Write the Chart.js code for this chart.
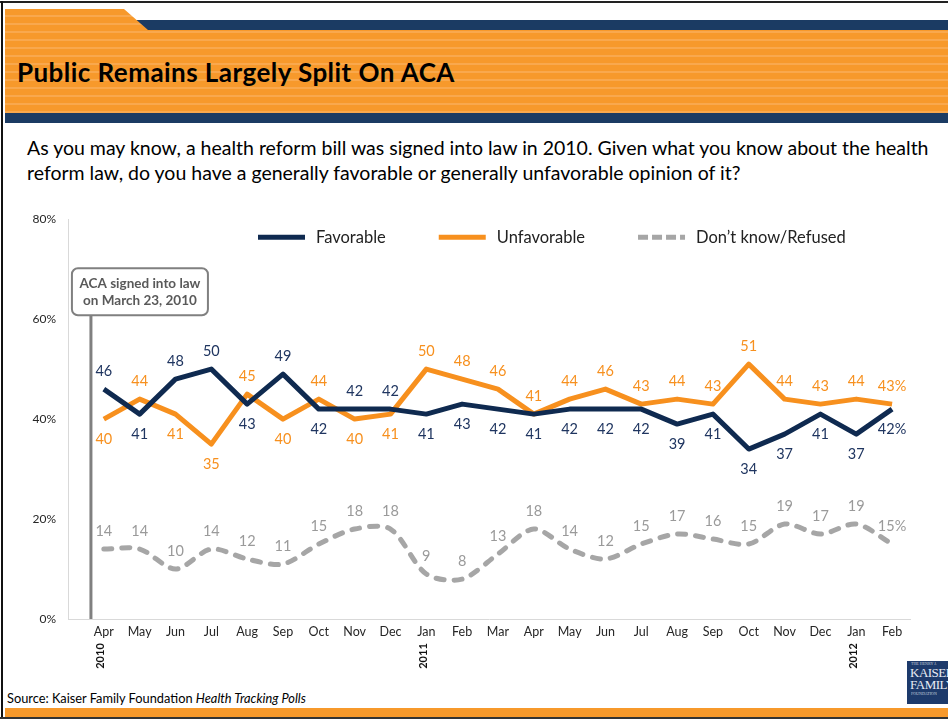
<!DOCTYPE html>
<html>
<head>
<meta charset="utf-8">
<script src="https://cdn.jsdelivr.net/npm/chart.js@4.4.1/dist/chart.umd.min.js"></script>
<style>
  body { margin: 0; width: 948px; height: 719px; overflow: hidden; background: #fff; position: relative; font-family: Lato, 'Open Sans', sans-serif; }
  .frame-top { position: absolute; left: 0; top: 1px; width: 948px; height: 2px; background: #222; }
  .frame-left { position: absolute; left: 1px; top: 1px; width: 2px; height: 718px; background: #111; }
  .navy-strip { position: absolute; left: 130px; top: 20px; width: 818px; height: 10px; background: #1b3b63; }
  .banner { position: absolute; left: 5px; top: 9px; width: 943px; height: 104px;
    background: repeating-linear-gradient(to bottom, #f7992b 0, #f7992b 6.5px, #f9a84d 6.5px, #f9a84d 8px);
    clip-path: polygon(0 0, 119px 0, 143px 21px, 100% 21px, 100% 100%, 0 100%); }
  .banner-base { position: absolute; left: 5px; top: 113px; width: 943px; height: 10px; background: #1b3b63; }
  .title { position: absolute; left: 17px; top: 56px; font: bold 26px Lato, sans-serif; color: #000; letter-spacing: 0.45px; }
  .question { position: absolute; left: 27px; top: 135px; font-size: 19.5px; line-height: 25px; color: #000; }
  #wrap { position: absolute; left: 0; top: 200px; width: 948px; height: 490px; }
  .source { position: absolute; left: 7px; top: 690px; font-size: 12.8px; color: #000; }
  .footer { position: absolute; left: 5px; top: 708px; width: 943px; height: 9px; background: #f7992b; }
  .footer-line { position: absolute; left: 0; top: 717px; width: 948px; height: 2px; background: #333; }
  .logo { position: absolute; left: 907px; top: 661px; width: 41px; height: 43px; background: #1d3a6b; overflow: hidden;
    color: #e8ecf4; font-family: 'Liberation Serif', serif; white-space: nowrap; }
  .logo .small { font-size: 4px; line-height: 6px; padding-left: 4px; opacity: 0.8; }
  .logo .big { font-size: 13px; line-height: 12px; padding-left: 3px; letter-spacing: -0.5px; }
</style>
</head>
<body>
<div class="frame-top"></div>
<div class="navy-strip"></div>
<div class="banner"></div>
<div class="banner-base"></div>
<div class="frame-left"></div>
<div class="title">Public Remains Largely Split On ACA</div>
<div class="question">As you may know, a health reform bill was signed into law in 2010. Given what you know about the health<br>reform law, do you have a generally favorable or generally unfavorable opinion of it?</div>

<div id="wrap"><canvas id="chart"></canvas></div>

<div class="source">Source: Kaiser Family Foundation <i>Health Tracking Polls</i></div>
<div class="logo">
  <div class="small">THE HENRY J.</div>
  <div class="big">KAISER</div>
  <div class="big">FAMILY</div>
  <div class="small">FOUNDATION</div>
</div>
<div class="footer"></div>
<div class="footer-line"></div>

<script>
// monthly tracking polls, April 2010 through February 2012
const months = ['Apr', 'May', 'Jun', 'Jul', 'Aug', 'Sep', 'Oct', 'Nov', 'Dec',
  'Jan', 'Feb', 'Mar', 'Apr', 'May', 'Jun', 'Jul', 'Aug', 'Sep', 'Oct', 'Nov', 'Dec',
  'Jan', 'Feb'];
const yearLabels = ['2010', '2011', '2012'];
const yearStarts = [0, 9, 21];

const favorable   = [46, 41, 48, 50, 43, 49, 42, 42, 42, 41, 43, 42, 41, 42, 42, 42, 39, 41, 34, 37, 41, 37, 42];
const unfavorable = [40, 44, 41, 35, 45, 40, 44, 40, 41, 50, 48, 46, 41, 44, 46, 43, 44, 43, 51, 44, 43, 44, 43];
const dontKnow    = [14, 14, 10, 14, 12, 11, 15, 18, 18, 9, 8, 13, 18, 14, 12, 15, 17, 16, 15, 19, 17, 19, 15];

const yTicks = [0, 20, 40, 60, 80];

// law signed March 23, 2010 -- a bit before the April poll
const signedAt = -0.36;

const NAVY = '#0f2a50';
const NAVY_TEXT = '#1f3560';
const ORANGE = '#f7901e';
const GREY = '#a6a6a6';
const GREY_TEXT = '#9a9a9a';

const toPoints = arr => arr.map((v, i) => ({ x: i, y: v }));

// number labels above / below each point
const valueLabels = {
  id: 'valueLabels',
  afterDatasetsDraw(chart) {
    const ctx = chart.ctx;
    ctx.save();
    ctx.font = '14.5px Lato';
    ctx.textAlign = 'center';
    ctx.textBaseline = 'middle';
    chart.data.datasets.forEach((ds, di) => {
      const meta = chart.getDatasetMeta(di);
      meta.data.forEach((pt, i) => {
        const v = ds.data[i].y;
        let above;
        if (di === 0) above = favorable[i] > unfavorable[i];
        else if (di === 1) above = unfavorable[i] >= favorable[i];
        else above = true;
        const last = i === ds.data.length - 1;
        const txt = last ? v + '%' : String(v);
        ctx.fillStyle = ds.labelColor;
        ctx.fillText(txt, pt.x, pt.y + (above ? -18 : 20));
      });
    });
    ctx.restore();
  }
};

// legend row drawn inside the plot area
const lineLegend = {
  id: 'lineLegend',
  afterDraw(chart) {
    const ctx = chart.ctx;
    const area = chart.chartArea;
    const y = area.top + 18;
    let x = area.left + 190;
    ctx.save();
    ctx.font = '16.5px Lato';
    ctx.textBaseline = 'middle';
    chart.data.datasets.forEach(ds => {
      ctx.strokeStyle = ds.borderColor;
      ctx.lineWidth = 5;
      ctx.lineCap = 'butt';
      ctx.setLineDash(ds.borderDash && ds.borderDash.length ? [10, 4] : []);
      ctx.beginPath();
      ctx.moveTo(x, y);
      ctx.lineTo(x + 47, y);
      ctx.stroke();
      ctx.setLineDash([]);
      ctx.fillStyle = '#222';
      ctx.fillText(ds.label, x + 58, y);
      x += 58 + ctx.measureText(ds.label).width + 53;
    });
    ctx.restore();
  }
};

// signing marker with its callout box, plus the year markers under the months
const annotations = {
  id: 'annotations',
  afterDraw(chart) {
    const ctx = chart.ctx;
    const area = chart.chartArea;
    const xs = chart.scales.x;
    const lx = xs.getPixelForValue(signedAt);
    const boxL = lx - 19, boxT = area.top + 49, boxW = 136, boxH = 47;

    ctx.save();
    ctx.strokeStyle = '#808080';
    ctx.lineWidth = 3;
    ctx.beginPath();
    ctx.moveTo(lx, boxT + boxH);
    ctx.lineTo(lx, area.bottom);
    ctx.stroke();

    ctx.fillStyle = '#fff';
    ctx.lineWidth = 2;
    ctx.beginPath();
    ctx.roundRect(boxL, boxT, boxW, boxH, 6);
    ctx.fill();
    ctx.stroke();

    ctx.fillStyle = '#595959';
    ctx.font = 'bold 13.5px Lato';
    ctx.textAlign = 'center';
    ctx.textBaseline = 'middle';
    ctx.fillText('ACA signed into law', boxL + boxW / 2, boxT + 15);
    ctx.fillText('on March 23, 2010', boxL + boxW / 2, boxT + 32);

    ctx.fillStyle = '#111';
    ctx.font = 'bold 11px Lato';
    yearLabels.forEach((yr, k) => {
      const px = xs.getPixelForValue(yearStarts[k]) - 3;
      ctx.save();
      ctx.translate(px, area.bottom + 37);
      ctx.rotate(-Math.PI / 2);
      ctx.fillText(yr, 0, 0);
      ctx.restore();
    });
    ctx.restore();
  }
};

new Chart(document.getElementById('chart'), {
  type: 'line',
  data: {
    datasets: [
      {
        label: 'Favorable',
        data: toPoints(favorable),
        borderColor: NAVY,
        labelColor: NAVY_TEXT,
        borderWidth: 5,
        borderJoinStyle: 'round',
        tension: 0
      },
      {
        label: 'Unfavorable',
        data: toPoints(unfavorable),
        borderColor: ORANGE,
        labelColor: ORANGE,
        borderWidth: 5,
        borderJoinStyle: 'round',
        tension: 0
      },
      {
        label: 'Don\u2019t know/Refused',
        data: toPoints(dontKnow),
        borderColor: GREY,
        labelColor: GREY_TEXT,
        borderWidth: 5,
        borderDash: [8, 10],
        borderCapStyle: 'round',
        tension: 0.3
      }
    ]
  },
  options: {
    responsive: true,
    maintainAspectRatio: false,
    animation: false,
    layout: { padding: { top: 19, right: 38, left: 0, bottom: 0 } },
    elements: { point: { radius: 0, hoverRadius: 0 } },
    plugins: {
      legend: { display: false },
      tooltip: { enabled: false }
    },
    scales: {
      x: {
        type: 'linear',
        min: -1,
        max: 22.5,
        afterBuildTicks: s => { s.ticks = months.map((m, i) => ({ value: i })); },
        afterFit: s => { s.height = 71; },
        grid: { display: false, drawTicks: false },
        border: { display: true, color: '#d9d9d9' },
        ticks: {
          autoSkip: false,
          maxRotation: 0,
          padding: 5,
          color: '#262626',
          font: { family: 'Lato', size: 12.5 },
          callback: v => months[v]
        }
      },
      y: {
        min: 0,
        max: 80,
        afterBuildTicks: s => { s.ticks = yTicks.map(v => ({ value: v })); },
        afterFit: s => { s.width = 68; },
        grid: { display: false, drawTicks: false },
        border: { display: true, color: '#d9d9d9' },
        ticks: {
          padding: 12,
          color: '#262626',
          font: { family: 'Lato', size: 12 },
          callback: v => v + '%'
        }
      }
    }
  },
  plugins: [valueLabels, lineLegend, annotations]
});
</script>
</body>
</html>
